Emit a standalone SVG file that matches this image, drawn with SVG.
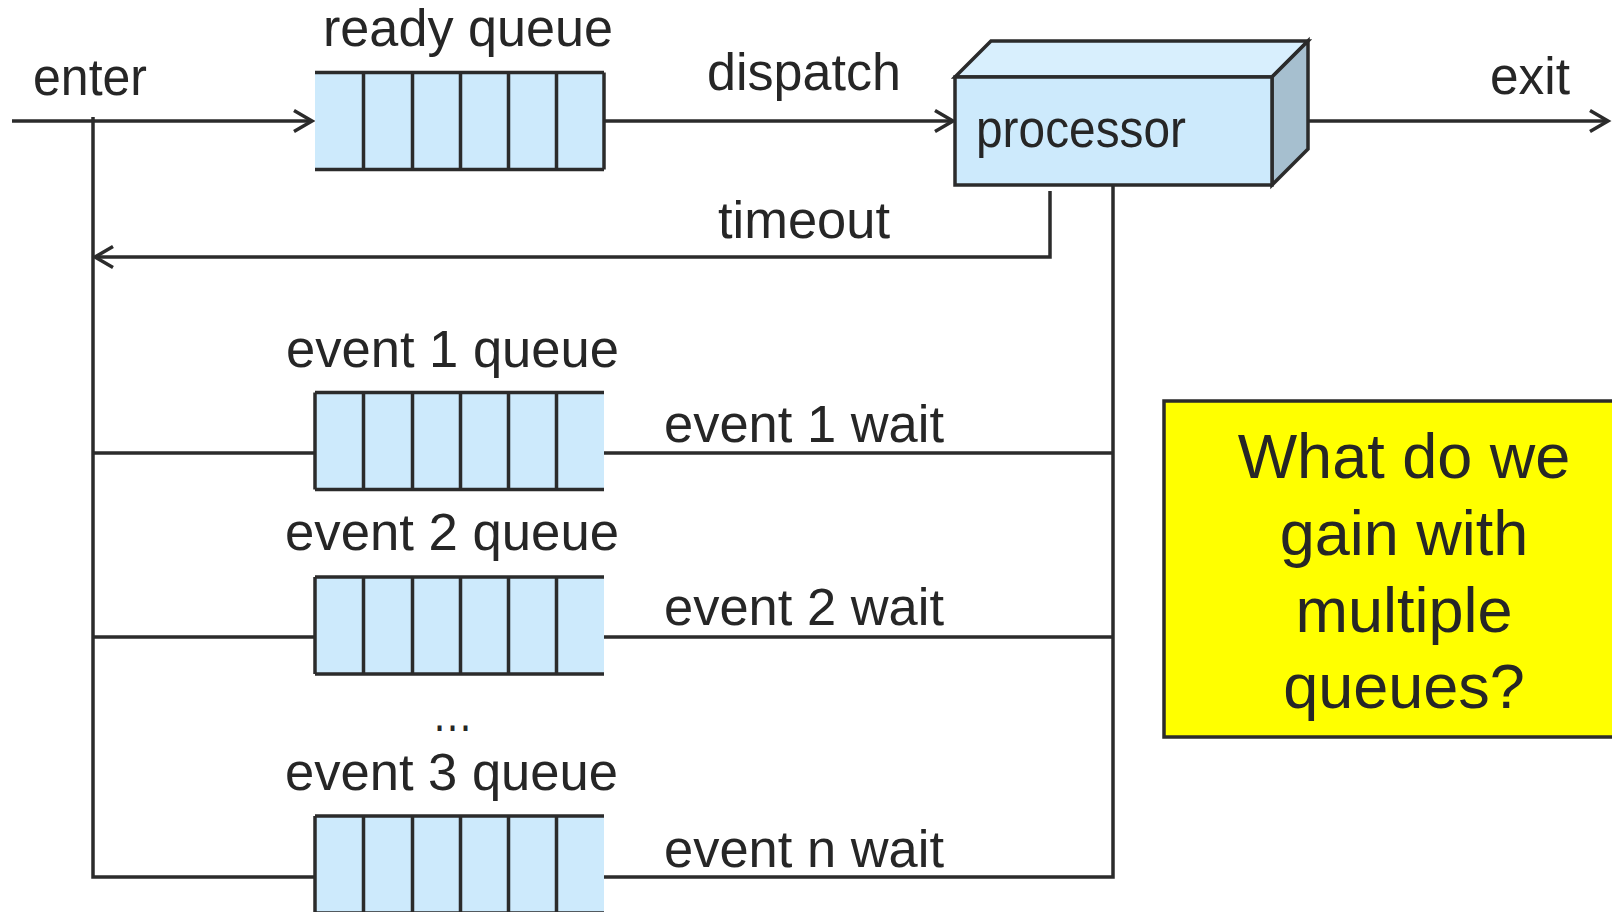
<svg xmlns="http://www.w3.org/2000/svg" xmlns:xlink="http://www.w3.org/1999/xlink" width="1612" height="912" viewBox="0 0 1612 912">
  <style>
    .ln { stroke: #2b2b2b; stroke-width: 3.5; fill: none; }
    .qfill { fill: #cdeafc; }
    .lbl { font-family: "Liberation Sans", Arial, sans-serif; font-size: 51px; fill: #262626; }
    .big { font-family: "Liberation Sans", Arial, sans-serif; font-size: 63px; fill: #262626; text-anchor: middle; }
  </style>
  <defs>
    <marker id="arrow" markerUnits="userSpaceOnUse" markerWidth="26" markerHeight="28" viewBox="-22 -14 26 28" refX="0" refY="0" orient="auto">
      <path d="M-18,-10.5 L0,0 L-18,10.5" fill="none" stroke="#2b2b2b" stroke-width="3.5" stroke-linejoin="miter"/>
    </marker>
    <!-- six-slot queue body: fill, top/bottom rails and slot dividers -->
    <g id="slots">
      <rect class="qfill" x="0" y="0" width="289" height="97"/>
      <path class="ln" d="M0,0 H289 M0,97 H289 M48.5,0 V97 M97.5,0 V97 M145.5,0 V97 M193.5,0 V97 M241.5,0 V97"/>
    </g>
  </defs>

  <rect width="1612" height="912" fill="#ffffff"/>

  <!-- connectors -->
  <g id="connectors">
    <path class="ln" d="M12,121 H312" marker-end="url(#arrow)"/>
    <path class="ln" d="M604,121 H953" marker-end="url(#arrow)"/>
    <path class="ln" d="M1272,121 H1608" marker-end="url(#arrow)"/>
    <path class="ln" d="M1050,191 V257 H95" marker-end="url(#arrow)"/>
    <path class="ln" d="M93,117 V877 H315"/>
    <path class="ln" d="M93,453 H315 M93,637 H315"/>
    <path class="ln" d="M1113,185 V877 H604"/>
    <path class="ln" d="M604,453 H1113 M604,637 H1113"/>
  </g>

  <!-- ready queue (open at its tail) -->
  <g id="ready-queue">
    <use xlink:href="#slots" x="315" y="72.5"/>
    <path class="ln" d="M604,72.5 V169.5"/>
    <text class="lbl" x="323" y="46" textLength="290" lengthAdjust="spacingAndGlyphs">ready queue</text>
  </g>

  <!-- processor box -->
  <g id="processor">
    <polygon points="955,77 991,41 1308,41 1272,77" fill="#d8effd" stroke="#2b2b2b" stroke-width="3.5" stroke-linejoin="miter"/>
    <polygon points="1272,77 1308,41 1308,149 1272,185" fill="#a6bfcf" stroke="#2b2b2b" stroke-width="3.5" stroke-linejoin="miter"/>
    <rect x="955" y="77" width="317" height="108" fill="#cdeafc" stroke="#2b2b2b" stroke-width="3.5"/>
    <text class="lbl" x="976" y="147" textLength="210" lengthAdjust="spacingAndGlyphs">processor</text>
  </g>

  <!-- event queues (open at their heads) -->
  <g id="event1-queue">
    <use xlink:href="#slots" x="315" y="392.5"/>
    <path class="ln" d="M315,392.5 V489.5"/>
    <text class="lbl" x="286" y="367" textLength="333" lengthAdjust="spacingAndGlyphs">event 1 queue</text>
  </g>
  <g id="event2-queue">
    <use xlink:href="#slots" x="315" y="577"/>
    <path class="ln" d="M315,577 V674"/>
    <text class="lbl" x="285" y="550" textLength="334" lengthAdjust="spacingAndGlyphs">event 2 queue</text>
  </g>
  <g id="event3-queue">
    <use xlink:href="#slots" x="315" y="816"/>
    <path class="ln" d="M315,816 V913"/>
    <text class="lbl" x="432" y="731" textLength="41" lengthAdjust="spacingAndGlyphs">…</text>
    <text class="lbl" x="285" y="790" textLength="333" lengthAdjust="spacingAndGlyphs">event 3 queue</text>
  </g>

  <!-- connector labels -->
  <g id="labels">
    <text class="lbl" x="33" y="95" textLength="114" lengthAdjust="spacingAndGlyphs">enter</text>
    <text class="lbl" x="707" y="90" textLength="194" lengthAdjust="spacingAndGlyphs">dispatch</text>
    <text class="lbl" x="1490" y="94" textLength="80" lengthAdjust="spacingAndGlyphs">exit</text>
    <text class="lbl" x="718" y="238" textLength="172" lengthAdjust="spacingAndGlyphs">timeout</text>
    <text class="lbl" x="664" y="442" textLength="280" lengthAdjust="spacingAndGlyphs">event 1 wait</text>
    <text class="lbl" x="664" y="625" textLength="280" lengthAdjust="spacingAndGlyphs">event 2 wait</text>
    <text class="lbl" x="664" y="867" textLength="280" lengthAdjust="spacingAndGlyphs">event n wait</text>
  </g>

  <!-- question callout -->
  <g id="question">
    <rect x="1164" y="401" width="460" height="336" fill="#ffff00" stroke="#2b2b2b" stroke-width="3.5"/>
    <text class="big" x="1404" y="478">What do we</text>
    <text class="big" x="1404" y="555">gain with</text>
    <text class="big" x="1404" y="632">multiple</text>
    <text class="big" x="1404" y="708">queues?</text>
  </g>
</svg>
